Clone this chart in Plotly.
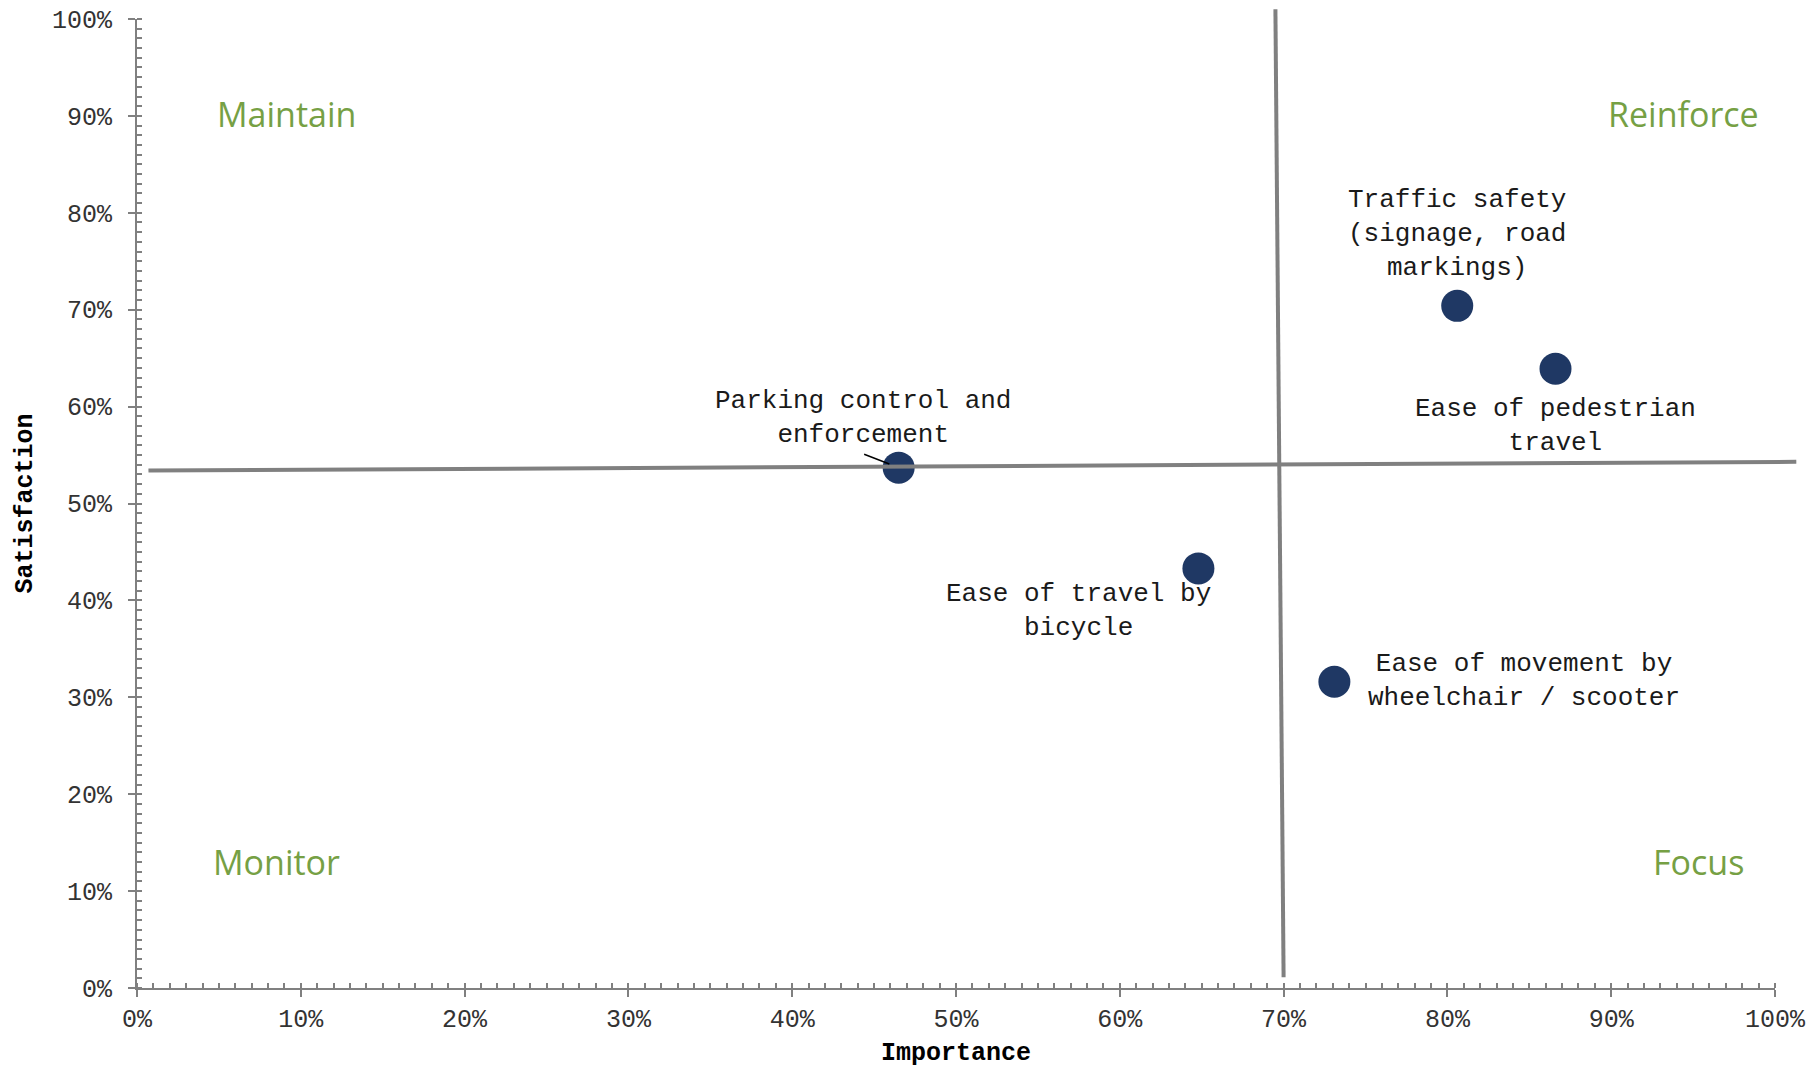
import plotly.graph_objects as go

# ---------------- data ----------------
items = [
    "Parking control and<br>enforcement",
    "Ease of travel by<br>bicycle",
    "Ease of movement by<br>wheelchair / scooter",
    "Traffic safety<br>(signage, road<br>markings)",
    "Ease of pedestrian<br>travel",
]
importance = [46.5, 64.8, 73.1, 80.6, 86.6]
satisfaction = [53.7, 43.3, 31.6, 70.4, 63.9]

# quadrant divider lines (endpoints)
hline_x = [0.7, 101.3]
hline_y = [53.4, 54.3]
vline_x = [69.5, 70.0]
vline_y = [101.0, 1.1]

quadrants = ["Maintain", "Reinforce", "Monitor", "Focus"]
quad_x = [9.1, 94.4, 8.5, 95.3]
quad_y = [90.2, 90.2, 13.0, 13.0]

tick_vals = [0, 10, 20, 30, 40, 50, 60, 70, 80, 90, 100]
tick_text = [f"{v}%" for v in tick_vals]

x_title = "Importance"
y_title = "Satisfaction"

# label placement (centre of each label, in data units)
label_x = [44.3, 57.5, 84.7, 80.6, 86.6]
label_y = [58.8, 38.9, 31.7, 77.8, 58.0]

# ---------------- styling ----------------
W, H = 1811, 1067
ML, MR, MT, MB = 137, 11, 5, 79
plot_w = W - ML - MR
plot_h = H - MT - MB
main_w = 1638
main_h = 969
xdom = main_w / plot_w
ydom = main_h / plot_h

MONO = "Courier New, Liberation Mono, monospace"
GREEN = "#76A044"
NAVY = "#1F3864"
GREY = "#808080"

fig = go.Figure()

fig.add_trace(go.Scatter(
    x=importance, y=satisfaction, mode="markers",
    marker=dict(size=32, color=NAVY, line=dict(width=0)),
    cliponaxis=False, showlegend=False, xaxis="x", yaxis="y",
))

fig.add_trace(go.Scatter(
    x=hline_x, y=hline_y, mode="lines",
    line=dict(color=GREY, width=4), showlegend=False,
    xaxis="x2", yaxis="y2",
))
fig.add_trace(go.Scatter(
    x=vline_x, y=vline_y, mode="lines",
    line=dict(color=GREY, width=4), showlegend=False,
    xaxis="x2", yaxis="y2",
))

annotations = []
for t, lx, ly in zip(items, label_x, label_y):
    annotations.append(dict(
        x=lx, y=ly, xref="x", yref="y", text=t, showarrow=False,
        align="center", xanchor="center", yanchor="middle",
        font=dict(family=MONO, size=26, color="#1a1a1a"),
    ))
# leader line for the parking label
annotations.append(dict(
    x=importance[0], y=satisfaction[0], xref="x", yref="y", text="",
    showarrow=True, arrowhead=0, arrowwidth=1.5, arrowcolor="#000000",
    ax=-36, ay=-14, standoff=10,
))
for q, qx, qy in zip(quadrants, quad_x, quad_y):
    annotations.append(dict(
        x=qx, y=qy, xref="x", yref="y", text=q, showarrow=False,
        xanchor="center", yanchor="middle",
        font=dict(family="Open Sans, Lato, sans-serif", size=34, color=GREEN),
    ))
# axis titles
annotations.append(dict(
    x=50, y=0, xref="x", yref="paper", text=f"<b>{x_title}</b>",
    showarrow=False, xanchor="center", yanchor="middle", yshift=-65,
    font=dict(family=MONO, size=25, color="#000000"),
))
annotations.append(dict(
    x=0, y=50, xref="paper", yref="y", text=f"<b>{y_title}</b>",
    showarrow=False, xanchor="center", yanchor="middle", xshift=-112,
    textangle=-90, font=dict(family=MONO, size=25, color="#000000"),
))

axis_common = dict(
    range=[0, 100], tickvals=tick_vals, ticktext=tick_text,
    showgrid=False, zeroline=False, automargin=False,
    showline=True, linecolor=GREY, linewidth=2,
    ticks="outside", ticklen=7, tickwidth=2, tickcolor=GREY,
    minor=dict(dtick=1, ticks="inside", ticklen=5, tickwidth=1.5, tickcolor=GREY),
    tickfont=dict(family=MONO, size=25, color="#333333"),
)

fig.update_layout(
    width=W, height=H,
    margin=dict(l=ML, r=MR, t=MT, b=MB, autoexpand=False),
    paper_bgcolor="white", plot_bgcolor="rgba(0,0,0,0)",
    xaxis=dict(**axis_common, domain=[0, xdom], anchor="y",
               ticklabelstandoff=0),
    yaxis=dict(**axis_common, domain=[0, ydom], anchor="x",
               ticklabelstandoff=11),
    xaxis2=dict(domain=[0, 1], range=[0, 100 / xdom], visible=False,
                anchor="y2", automargin=False),
    yaxis2=dict(domain=[0, 1], range=[0, 100 / ydom], visible=False,
                anchor="x2", automargin=False),
    annotations=annotations,
    showlegend=False,
)

fig.write_html("out.html", config={"displayModeBar": False},
               post_script="document.body.style.margin='0';")
